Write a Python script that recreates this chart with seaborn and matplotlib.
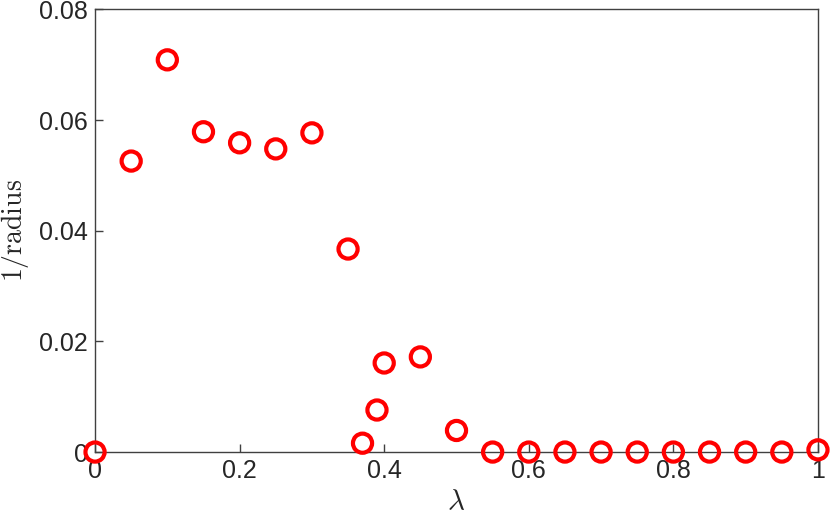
import numpy as np
import pandas as pd
import matplotlib
matplotlib.use('Agg')
import matplotlib.pyplot as plt
import seaborn as sns

# valores
lam = [0.0, 0.05, 0.10, 0.15, 0.20, 0.25, 0.30, 0.35, 0.37, 0.39, 0.40, 0.45, 0.50,
       0.55, 0.60, 0.65, 0.70, 0.75, 0.80, 0.85, 0.90, 0.95, 1.0]
inv_radius = [0.0, 0.0526, 0.0709, 0.0579, 0.0559, 0.0548, 0.0577, 0.0367, 0.0016,
              0.0076, 0.0161, 0.0172, 0.0039,
              0.0, 0.0, 0.0, 0.0, 0.0, 0.0, 0.0, 0.0, 0.0, 0.0004]
xticks = [0, 0.2, 0.4, 0.6, 0.8, 1]
xtick_labels = ['0', '0.2', '0.4', '0.6', '0.8', '1']
yticks = [0, 0.02, 0.04, 0.06, 0.08]
ytick_labels = ['0', '0.02', '0.04', '0.06', '0.08']

df = pd.DataFrame({'lam': lam, 'inv_radius': inv_radius})

sns.set_style('white')
plt.rcParams['font.family'] = ['Liberation Sans', 'DejaVu Sans']
plt.rcParams['mathtext.fontset'] = 'cm'

fig = plt.figure(figsize=(8.3, 5.19), dpi=100)
ax = fig.add_axes([0.1145, 0.129, 0.871, 0.8527])

sns.scatterplot(data=df, x='lam', y='inv_radius', ax=ax, marker='o',
                s=190, facecolor='none', edgecolor='#ff0000', linewidth=3,
                clip_on=False, zorder=3)

ax.set_xlim(0, 1)
ax.set_ylim(0, 0.08)
ax.set_xticks(xticks)
ax.set_xticklabels(xtick_labels)
ax.set_yticks(yticks)
ax.set_yticklabels(ytick_labels)
ax.tick_params(direction='in', length=6, width=1, colors='#404040',
               labelsize=18, labelcolor='#262626', top=False, right=False,
               bottom=True, left=True, pad=5)
for sp in ax.spines.values():
    sp.set_color('#404040')
    sp.set_linewidth(1)
    sp.set_visible(True)

ax.set_xlabel(r'$\lambda$', fontsize=21, labelpad=4, color='#262626')
ax.set_ylabel(r'$1/\mathrm{radius}$', fontsize=20, labelpad=6, color='#262626')

fig.savefig('out.png', dpi=100)
